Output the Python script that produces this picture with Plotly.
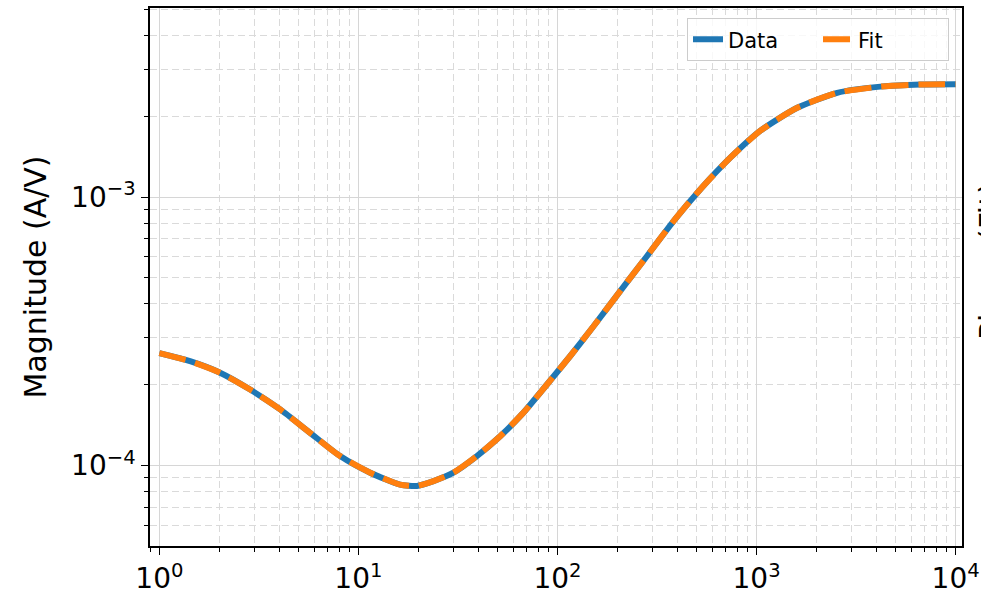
import plotly.graph_objects as go

# Frequency (Hz) and magnitude (A/V)
freq = [1.0, 1.426, 2.018, 2.858, 4.046, 5.715, 8.091, 11.46, 16.18, 19.63, 23.82, 29.99,
        39.36, 51.52, 67.45, 88.51, 115.9, 151.7, 206.5, 281.2, 382.8, 521.2, 738.0,
        1042, 1600, 2541, 4188, 6653, 10000]
data_mag = [2.624e-4, 2.449e-4, 2.218e-4, 1.919e-4, 1.618e-4, 1.324e-4, 1.084e-4, 9.40e-5,
            8.49e-5, 8.39e-5, 8.75e-5, 9.40e-5, 1.084e-4, 1.285e-4, 1.574e-4, 2.004e-4,
            2.559e-4, 3.304e-4, 4.467e-4, 6.026e-4, 8.147e-4, 1.069e-3, 1.403e-3, 1.766e-3,
            2.153e-3, 2.449e-3, 2.582e-3, 2.630e-3, 2.636e-3]
fit_mag = [2.624e-4, 2.449e-4, 2.218e-4, 1.919e-4, 1.618e-4, 1.324e-4, 1.084e-4, 9.40e-5,
           8.49e-5, 8.39e-5, 8.75e-5, 9.40e-5, 1.084e-4, 1.285e-4, 1.574e-4, 2.004e-4,
           2.559e-4, 3.304e-4, 4.467e-4, 6.026e-4, 8.147e-4, 1.069e-3, 1.403e-3, 1.766e-3,
           2.153e-3, 2.449e-3, 2.582e-3, 2.630e-3, 2.636e-3]

x_tick_vals = [1, 10, 100, 1000, 10000]
x_tick_text = ["10<sup>0</sup>", "10<sup>1</sup>", "10<sup>2</sup>", "10<sup>3</sup>", "10<sup>4</sup>"]
y_tick_vals = [1e-4, 1e-3]
y_tick_text = ["10<sup>\u22124</sup>", "10<sup>\u22123</sup>"]

FONT = "DejaVu Sans"
MAJOR_GRID = "#d6d6d6"
MINOR_GRID = "#dadada"

fig = go.Figure()
fig.add_trace(go.Scatter(x=freq, y=data_mag, mode="lines", name="Data",
                         line=dict(color="#1f77b4", width=6, shape="spline", smoothing=0.6)))
fig.add_trace(go.Scatter(x=freq, y=fit_mag, mode="lines", name="Fit",
                         line=dict(color="#ff7f0e", width=6, dash="27px,10px",
                                   shape="spline", smoothing=0.6)))

axis_common = dict(
    type="log", showline=True, linecolor="black", linewidth=1.5, mirror=True,
    ticks="outside", ticklen=7, tickwidth=1.3, tickcolor="black",
    showgrid=True, gridcolor=MAJOR_GRID, gridwidth=1.3, zeroline=False,
    automargin=False,
    tickfont=dict(family=FONT, size=28, color="black"),
    minor=dict(dtick="D1", ticks="outside", ticklen=4, tickwidth=1, tickcolor="black",
               showgrid=True, gridcolor=MINOR_GRID, gridwidth=1, griddash="7px,4px"),
)

fig.update_xaxes(**axis_common, range=[-0.047, 4.032],
                 tickmode="array", tickvals=x_tick_vals, ticktext=x_tick_text)
fig.update_yaxes(**axis_common, range=[-4.30, -2.295],
                 tickmode="array", tickvals=y_tick_vals, ticktext=y_tick_text,
                 title=dict(text="Magnitude (A/V)", font=dict(family=FONT, size=30, color="black"),
                            standoff=16))

fig.add_annotation(text="Phase (Fit)", xref="paper", yref="paper", x=1.036, y=0.53,
                   textangle=-90, showarrow=False, xanchor="center", yanchor="middle",
                   font=dict(family=FONT, size=30, color="black"))

fig.update_layout(
    width=981, height=597,
    margin=dict(l=150, r=19, t=8, b=51, autoexpand=False),
    plot_bgcolor="white", paper_bgcolor="white",
    font=dict(family=FONT, color="black"),
    legend=dict(x=0.984, y=0.981, xanchor="right", yanchor="top", orientation="h",
                bgcolor="rgba(255,255,255,0.8)", bordercolor="#cccccc", borderwidth=1,
                font=dict(family=FONT, size=21, color="black"),
                entrywidth=85, entrywidthmode="pixels"),
    showlegend=True,
)

fig.write_html("out.html", config={"displayModeBar": False},
               post_script="document.body.style.margin='0px';")
